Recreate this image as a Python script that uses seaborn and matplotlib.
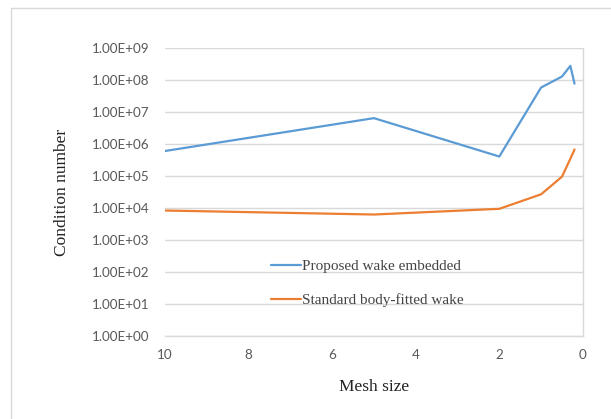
import matplotlib
matplotlib.use("Agg")
import matplotlib.pyplot as plt
from matplotlib.patches import Rectangle
import seaborn as sns
import pandas as pd

# Mesh sizes and condition numbers for the two wake treatments
mesh_size = [10, 5, 2, 1, 0.5, 0.3, 0.2]
wake_embedded = [6.1e5, 6.5e6, 4.1e5, 5.9e7, 1.3e8, 2.8e8, 7.8e7]
body_fitted = [8.4e3, 6.3e3, 9.5e3, 2.7e4, 9.6e4, 3.5e5, 6.8e5]
series_names = ["Proposed wake embedded", "Standard body-fitted wake"]
y_ticks = [1e0, 1e1, 1e2, 1e3, 1e4, 1e5, 1e6, 1e7, 1e8, 1e9]
y_tick_labels = ["1.00E+00", "1.00E+01", "1.00E+02", "1.00E+03", "1.00E+04",
                 "1.00E+05", "1.00E+06", "1.00E+07", "1.00E+08", "1.00E+09"]
x_ticks = [10, 8, 6, 4, 2, 0]

df = pd.DataFrame({
    "Mesh size": mesh_size * 2,
    "Condition number": wake_embedded + body_fitted,
    "Series": [series_names[0]] * len(mesh_size) + [series_names[1]] * len(mesh_size),
})

sns.set_theme(style="white")
plt.rcParams["font.family"] = ["Lato", "DejaVu Sans"]

fig = plt.figure(figsize=(6.11, 4.19), dpi=100)
ax = fig.add_axes([0.270, 0.198, 0.684, 0.687])

sns.lineplot(data=df, x="Mesh size", y="Condition number", hue="Series",
             palette=["#5B9BD5", "#ED7D31"], linewidth=1.6, ax=ax,
             sort=False, legend=False)

ax.set_yscale("log")
ax.set_ylim(1e0, 1e9)
ax.set_xlim(10, 0)
ax.set_yticks(y_ticks)
ax.set_yticklabels(y_tick_labels)
ax.minorticks_off()
ax.set_xticks(x_ticks)
ax.set_xticklabels([str(t) for t in x_ticks])
ax.tick_params(axis="both", length=0, labelsize=9.7, labelcolor="#595959")
ax.tick_params(axis="y", pad=11)
ax.tick_params(axis="x", pad=9)

ax.grid(axis="y", color="#D9D9D9", linewidth=1.0)
ax.grid(axis="x", visible=False)
for side in ["top", "left"]:
    ax.spines[side].set_visible(False)
ax.spines["right"].set_color("#D9D9D9")
ax.spines["bottom"].set_color("#D9D9D9")
ax.spines["right"].set_linewidth(1.0)
ax.spines["bottom"].set_linewidth(1.0)

serif = ["Liberation Serif", "DejaVu Serif"]
ax.set_xlabel("Mesh size", family=serif, fontsize=12.5, color="#222222", labelpad=13)
ax.set_ylabel("Condition number", family=serif, fontsize=12.5, color="#222222", labelpad=16)

handles = [plt.Line2D([], [], color=c, linewidth=1.6) for c in ["#5B9BD5", "#ED7D31"]]
leg = ax.legend(handles, series_names, loc="upper left", bbox_to_anchor=(0.222, 0.313),
                frameon=False, handlelength=1.9, handletextpad=0.1,
                labelspacing=1.3, prop={"family": serif, "size": 11})
for t in leg.get_texts():
    t.set_color("#444444")

# Chart area border
fig.patches.append(Rectangle((11 / 611, -0.05), 1.2, 1 - 8 / 419 + 0.05,
                             transform=fig.transFigure, fill=False,
                             edgecolor="#D9D9D9", linewidth=1.0))

fig.savefig("out.png", dpi=100)
